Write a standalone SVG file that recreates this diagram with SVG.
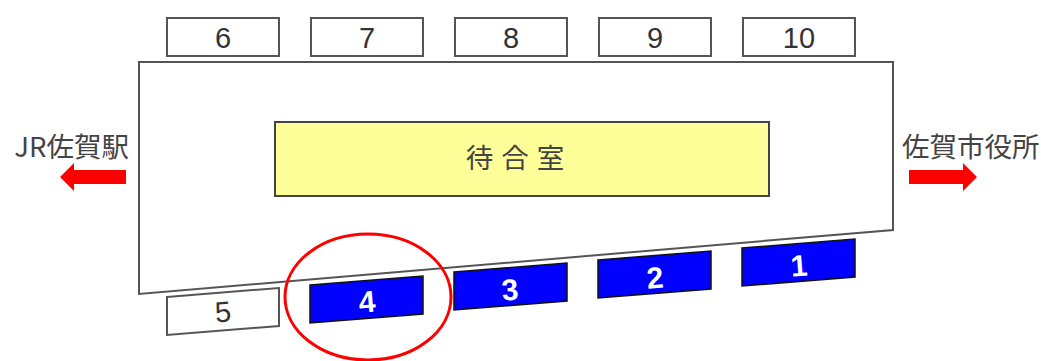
<svg xmlns="http://www.w3.org/2000/svg" width="1041" height="361" viewBox="0 0 1041 361">
<style>
.box{fill:#fff;stroke:#555;stroke-width:2}
.blue{fill:#0000ff;stroke:#111;stroke-width:1.5}
.num{font-family:"Liberation Sans",Arial,sans-serif;font-size:29px;fill:#333;text-anchor:middle}
.bnum{font-family:"Liberation Sans",Arial,sans-serif;font-size:30px;font-weight:bold;fill:#fff;text-anchor:middle}
.lbl{font-family:"Noto Sans CJK JP","Liberation Sans",sans-serif;font-size:27.5px;fill:#444}
.arrow{fill:#ff0000}
</style>
<g id="building">
<polygon points="139,62 893,62 893,230 139,294" fill="#fff" stroke="#555" stroke-width="2"/>
</g>
<g id="waiting-room">
<rect x="275" y="122" width="494" height="74" fill="#ffff99" stroke="#444" stroke-width="2"/>
<text x="519" y="168" class="lbl" text-anchor="middle" letter-spacing="8" fill="#333" font-size="26">待合室</text>
</g>
<g id="b6"><rect class="box" x="167" y="18" width="112" height="38"/><text class="num" x="223" y="48">6</text></g>
<g id="b7"><rect class="box" x="311" y="18" width="112" height="38"/><text class="num" x="367" y="48">7</text></g>
<g id="b8"><rect class="box" x="455" y="18" width="112" height="38"/><text class="num" x="511" y="48">8</text></g>
<g id="b9"><rect class="box" x="599" y="18" width="112" height="38"/><text class="num" x="655" y="48">9</text></g>
<g id="b10"><rect class="box" x="743" y="18" width="112" height="38"/><text class="num" x="799" y="48">10</text></g>
<g id="b5"><polygon class="box" points="167,297 279,288 279,326 167,335"/><text class="num" x="223" y="322" transform="rotate(-4.6 223 311)">5</text></g>
<g id="b4"><polygon class="blue" points="310,285 423,276 423,314 310,323"/><text class="bnum" x="367" y="312" transform="rotate(-4.6 367 301)">4</text></g>
<g id="b3"><polygon class="blue" points="454,272 567,263 567,301 454,310"/><text class="bnum" x="510" y="300" transform="rotate(-4.6 510 289)">3</text></g>
<g id="b2"><polygon class="blue" points="598,260 711,251 711,289 598,298"/><text class="bnum" x="655" y="288" transform="rotate(-4.6 655 277)">2</text></g>
<g id="b1"><polygon class="blue" points="742,248 855,239 855,277 742,286"/><text class="bnum" x="799" y="276" transform="rotate(-4.6 799 265)">1</text></g>
<g id="left-dest">
<text class="lbl" x="129" y="157" text-anchor="end">JR佐賀駅</text>
<polygon class="arrow" points="60,177 74,163 74,170 126,170 126,184 74,184 74,191"/>
</g>
<g id="right-dest">
<text class="lbl" x="902" y="157">佐賀市役所</text>
<polygon class="arrow" points="977,177 963,163 963,170 909,170 909,184 963,184 963,191"/>
</g>
<g id="highlight">
<ellipse cx="368" cy="297" rx="83" ry="63" fill="none" stroke="#ff0000" stroke-width="3"/>
</g>
</svg>
